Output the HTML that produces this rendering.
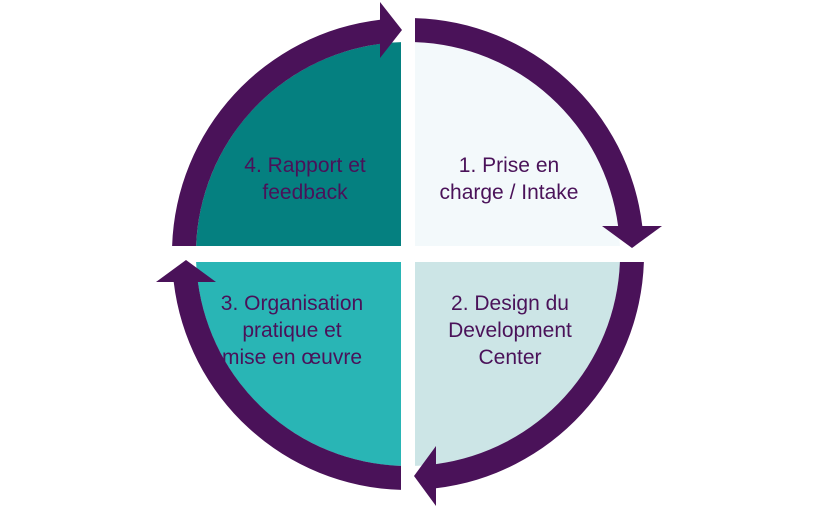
<!DOCTYPE html>
<html><head><meta charset="utf-8"><style>html,body{margin:0;padding:0;background:#fff}svg{display:block}</style></head>
<body>
<svg width="824" height="510" viewBox="0 0 824 510" xmlns="http://www.w3.org/2000/svg">
<g>
<path d="M415,246 L415,42.1 A212 212 0 0 1 619.9,246 Z" fill="#f3f9fb"/>
<path d="M401,246 L196.1,246 A212 212 0 0 1 401,42.1 Z" fill="#058080"/>
<path d="M401,262 L401,465.9 A212 212 0 0 1 196.1,262 Z" fill="#29b5b5"/>
<path d="M415,262 L619.9,262 A212 212 0 0 1 415,465.9 Z" fill="#cce5e6"/>
</g>
<g fill="#4a1259">
<path d="M415,18.1 A236 236 0 0 1 642.3,226 L618.1,226 A212 212 0 0 0 415,42.1 Z"/>
<polygon points="602,226 662,226 632,248"/>
<path d="M172.1,246 A236 236 0 0 1 380,19.7 L380,43.9 A212 212 0 0 0 196.1,246 Z"/>
<polygon points="380,2 380,58 402,30"/>
<path d="M401,489.9 A236 236 0 0 1 173.7,282 L197.9,282 A212 212 0 0 0 401,465.9 Z"/>
<polygon points="156,282 216,282 186,260"/>
<path d="M643.9,262 A236 236 0 0 1 436,488.3 L436,464.1 A212 212 0 0 0 619.9,262 Z"/>
<polygon points="436,446 436,506 414,476"/>
</g>
<g font-family="Liberation Sans, sans-serif" font-size="21" fill="#4a1259" text-anchor="middle">
<text x="509" y="172">1. Prise en</text>
<text x="509" y="199">charge / Intake</text>
<text x="305" y="172">4. Rapport et</text>
<text x="305" y="199">feedback</text>
<text x="510" y="310">2. Design du</text>
<text x="510" y="337">Development</text>
<text x="510" y="364">Center</text>
<text x="292" y="310">3. Organisation</text>
<text x="292" y="337">pratique et</text>
<text x="292" y="364">mise en œuvre</text>
</g>
</svg>
</body></html>
